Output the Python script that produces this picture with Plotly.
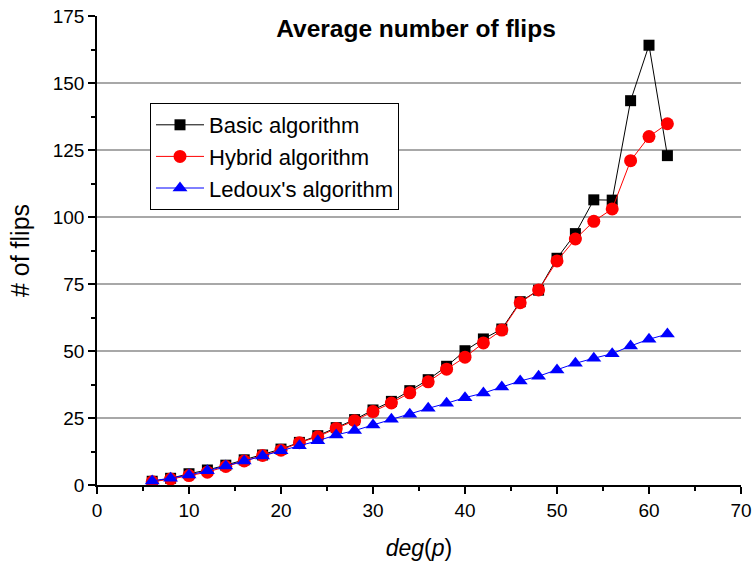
import plotly.graph_objects as go

deg = [6, 8, 10, 12, 14, 16, 18, 20, 22, 24, 26, 28, 30, 32, 34, 36, 38, 40,
       42, 44, 46, 48, 50, 52, 54, 56, 58, 60, 62]
basic = [1.4, 2.5, 4.2, 5.6, 7.4, 9.4, 11.2, 13.4, 15.9, 18.4, 21.4, 24.4, 28.0, 31.2, 35.2,
         39.3, 44.3, 50.1, 54.5, 58.2, 68.4, 72.7, 84.6, 93.8, 106.4, 106.3, 143.4, 164.1, 122.9]
hybrid = [1.2, 2.2, 3.5, 4.8, 6.9, 9.0, 11.0, 13.0, 15.8, 18.0, 21.1, 24.0, 27.4, 30.6, 34.4,
          38.5, 43.2, 47.7, 53.0, 57.8, 68.0, 72.8, 83.6, 91.8, 98.4, 103.0, 121.0, 130.0, 134.8]
ledoux = [1.5, 2.5, 3.7, 5.3, 7.1, 9.0, 10.8, 12.8, 14.6, 16.5, 18.7, 20.3, 22.4, 24.5, 26.4,
          28.6, 30.5, 32.6, 34.3, 36.6, 38.8, 40.6, 42.9, 45.4, 47.3, 49.0, 51.9, 54.4, 56.3]

names = ["Basic algorithm", "Hybrid algorithm", "Ledoux's algorithm"]
title_text = "Average number of flips"
x_title = "<i>deg</i>(<i>p</i>)"
y_title = "# of flips"

FONT = "Liberation Sans, Arial, sans-serif"

W, H = 753, 567

fig = go.Figure()
fig.add_trace(go.Scatter(x=deg, y=basic, name=names[0], mode="lines+markers",
                         line=dict(color="black", width=1),
                         marker=dict(symbol="square", size=11, color="black")))
fig.add_trace(go.Scatter(x=deg, y=hybrid, name=names[1], mode="lines+markers",
                         line=dict(color="red", width=1),
                         marker=dict(symbol="circle", size=13, color="red")))
fig.add_trace(go.Scatter(x=deg, y=ledoux, name=names[2], mode="lines+markers",
                         line=dict(color="blue", width=1),
                         marker=dict(symbol="triangle-up", size=13, color="blue")))

fig.update_layout(
    width=W, height=H,
    margin=dict(l=97, r=12, t=16, b=82, autoexpand=False),
    paper_bgcolor="white", plot_bgcolor="white",
    font=dict(family=FONT, color="black"),
    title=dict(text="<b>" + title_text + "</b>", x=416 / W, xanchor="center",
               y=(H - 28) / H, yanchor="middle", yref="container",
               font=dict(size=24.5, family=FONT, color="black")),
    legend=dict(x=(150 - 97) / 644, y=(485 - 103) / 469, xanchor="left", yanchor="top",
                bordercolor="black", borderwidth=1, bgcolor="white",
                font=dict(size=22, family=FONT), tracegroupgap=0, itemwidth=48),
    xaxis=dict(range=[0, 70], tickmode="linear", tick0=0, dtick=10, automargin=False,
               showgrid=False, zeroline=False, ticklabeloverflow="allow",
               showline=True, linecolor="black", linewidth=1.5,
               ticks="outside", ticklen=7, tickwidth=1.5, tickcolor="black",
               minor=dict(dtick=5, ticks="outside", ticklen=4, tickwidth=1.5, tickcolor="black"),
               tickfont=dict(size=19, family=FONT),
               title=dict(text=x_title, font=dict(size=23, family=FONT), standoff=20)),
    yaxis=dict(range=[0, 175], tickmode="linear", tick0=0, dtick=25, automargin=False,
               showgrid=True, gridcolor="#a8a8a8", gridwidth=1.5,
               zeroline=False, ticklabeloverflow="allow",
               showline=True, linecolor="black", linewidth=1.5,
               ticks="outside", ticklen=7, tickwidth=1.5, tickcolor="black",
               minor=dict(dtick=12.5, ticks="outside", ticklen=4, tickwidth=1.5, tickcolor="black",
                          showgrid=False),
               tickfont=dict(size=19, family=FONT),
               title=dict(text=y_title, font=dict(size=25, family=FONT), standoff=16)),
)

fig.write_html("out.html", config={"displayModeBar": False},
               post_script="document.body.style.margin='0';document.body.style.overflow='hidden';")
